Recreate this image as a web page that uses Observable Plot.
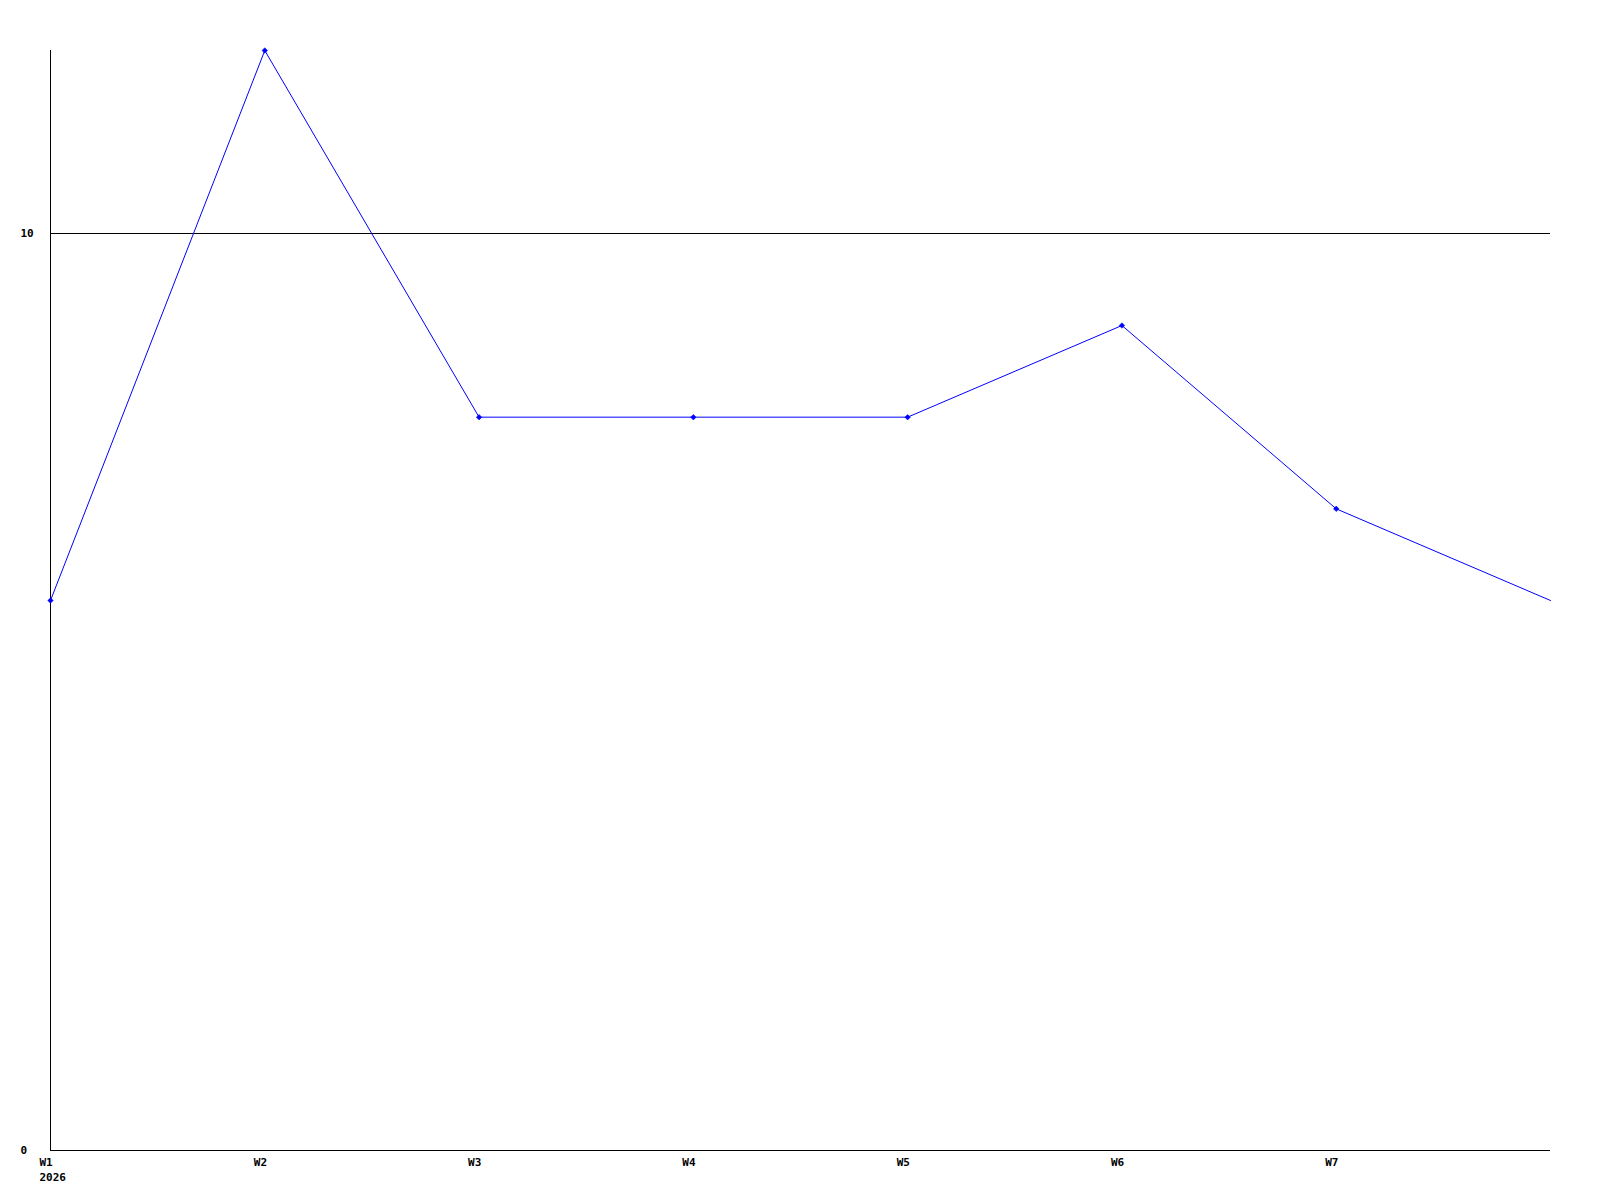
<!DOCTYPE html>
<html>
<head>
<meta charset="utf-8">
<script src="https://cdn.jsdelivr.net/npm/d3@7"></script>
<script src="https://cdn.jsdelivr.net/npm/@observablehq/plot@0.6"></script>
<style>
  html, body { margin: 0; padding: 0; background: #fff; }
  #chart svg { display: block; }
</style>
</head>
<body>
<div id="chart"></div>
<script>
const weeks = ["W1", "W2", "W3", "W4", "W5", "W6", "W7", "W8"];
const values = [6, 12, 8, 8, 8, 9, 7, 6];
const tickLabels = ["W1\n2026", "W2", "W3", "W4", "W5", "W6", "W7"];
const yTicks = [0, 10];
const refLine = [10];

const data = weeks.map((w, i) => ({i, week: w, value: values[i]}));
const markerData = data.slice(0, tickLabels.length);

const chart = Plot.plot({
  width: 1600,
  height: 1200,
  marginLeft: 50,
  marginRight: 50,
  marginTop: 50,
  marginBottom: 50,
  style: {fontFamily: "'DejaVu Sans Mono', monospace", fontSize: "11px", fontWeight: "bold", color: "#000", background: "#fff"},
  x: {type: "linear", domain: [0, weeks.length - 1]},
  y: {type: "linear", domain: [0, 12]},
  marks: [
    Plot.ruleY(refLine, {stroke: "#000", strokeWidth: 1, shapeRendering: "crispEdges"}),
    Plot.ruleY([0], {stroke: "#000", strokeWidth: 1, shapeRendering: "crispEdges"}),
    Plot.ruleX([0], {stroke: "#000", strokeWidth: 1, shapeRendering: "crispEdges"}),
    Plot.line(data, {x: "i", y: "value", stroke: "#0000ff", strokeWidth: 1}),
    Plot.dot(markerData, {x: "i", y: "value", symbol: "diamond2", r: 2.5, fill: "#0000ff", stroke: "#0000ff", strokeWidth: 0.5}),
    Plot.axisX(tickLabels.map((_, i) => i), {
      tickSize: 0, tickPadding: 5, textAnchor: "start", dx: -11, lineHeight: 1.36,
      tickFormat: (d) => tickLabels[d], label: null
    }),
    Plot.axisY(yTicks, {
      tickSize: 0, tickPadding: 30, textAnchor: "start", label: null,
      tickFormat: d3.format("d")
    })
  ]
});
document.getElementById("chart").appendChild(chart);
</script>
</body>
</html>
